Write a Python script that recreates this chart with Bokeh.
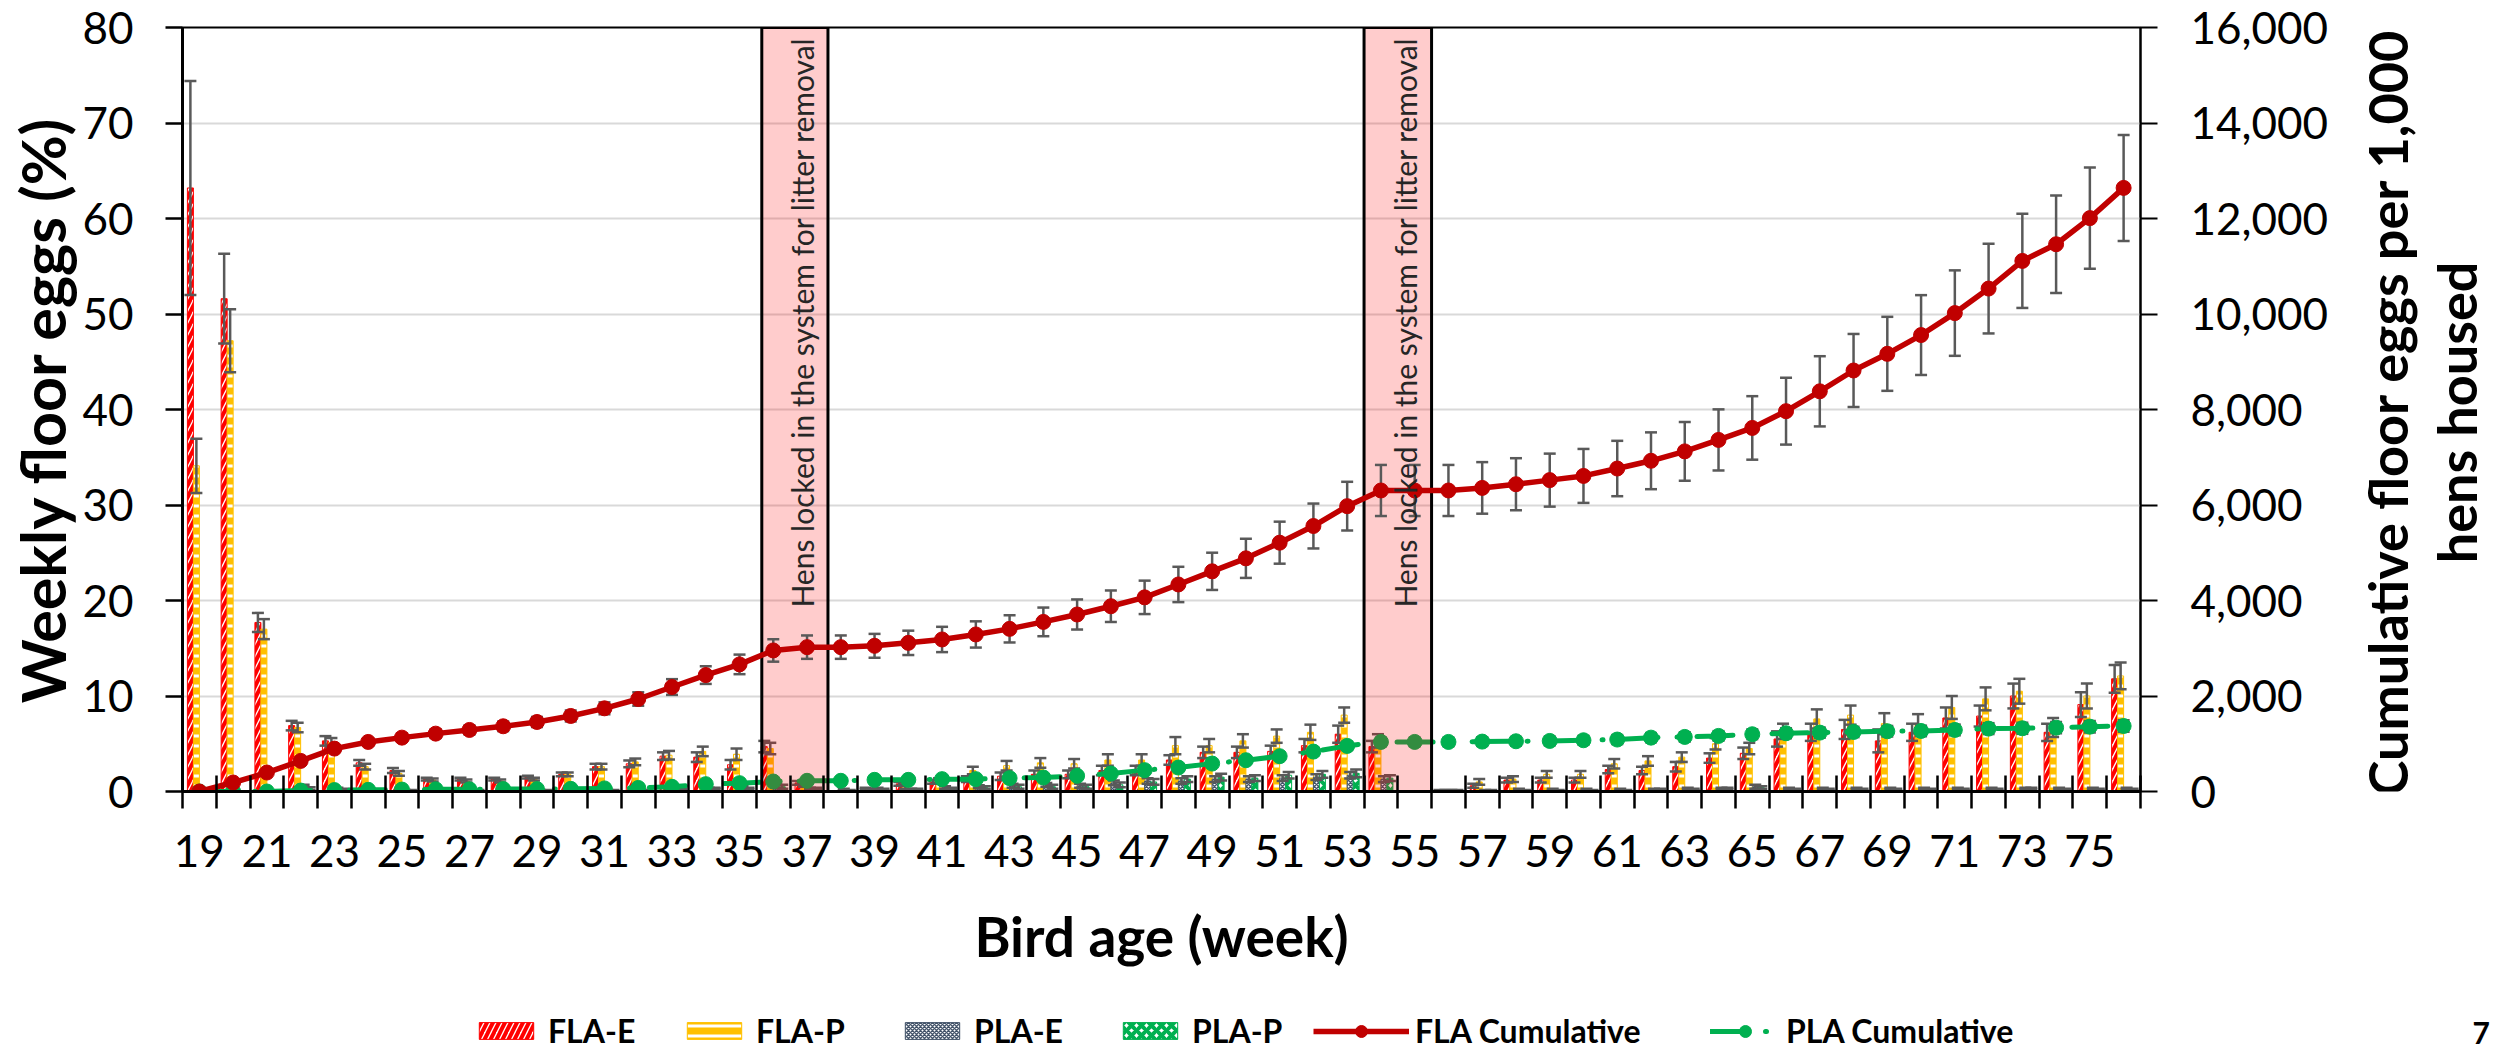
from math import pi

from bokeh.embed import file_html
from bokeh.layouts import column, row
from bokeh.models import (ColumnDataSource, FixedTicker, Label, Legend, LegendItem,
                          LinearAxis, NumeralTickFormatter, Range1d, TeeHead, Whisker)
from bokeh.plotting import figure
from bokeh.resources import INLINE
from bokeh.transform import dodge

# ---------------------------------------------------------------- data
weeks = list(range(19, 77))

# weekly floor eggs (%), mean and standard error per housing/treatment group
fla_e = [63.2, 51.6, 17.7, 6.9, 5.3, 3.0, 2.2, 1.3, 1.3, 1.3,
         1.5, 1.8, 2.6, 2.9, 3.7, 3.6, 2.8, 4.7, 0.9, 0.0,
         0.3, 0.8, 1.0, 1.3, 1.6, 1.8, 1.8, 2.2, 2.2, 3.3,
         4.1, 4.1, 4.2, 4.8, 6.0, 4.7, 0.0, 0.1, 0.6, 1.2,
         1.2, 1.2, 2.3, 2.2, 2.6, 3.5, 4.0, 5.5, 6.2, 6.5,
         5.3, 6.2, 7.7, 7.9, 10.0, 6.2, 9.1, 11.8]
fla_e_se = [11.2, 4.7, 1.0, 0.5, 0.5, 0.3, 0.25, 0.15, 0.15, 0.15,
            0.15, 0.2, 0.3, 0.35, 0.4, 0.5, 0.5, 0.6, 0.2, 0.0,
            0.1, 0.2, 0.2, 0.3, 0.4, 0.4, 0.4, 0.5, 0.5, 0.5,
            0.6, 0.6, 0.6, 0.7, 0.9, 0.6, 0.0, 0.05, 0.2, 0.25,
            0.25, 0.25, 0.4, 0.4, 0.5, 0.5, 0.6, 0.8, 0.9, 1.0,
            1.2, 0.9, 1.1, 1.1, 1.3, 0.9, 1.3, 1.45]
fla_p = [34.1, 47.2, 17.0, 6.7, 5.1, 2.6, 1.9, 1.2, 1.1, 1.1,
         1.3, 1.8, 2.6, 3.1, 3.8, 4.2, 3.9, 4.5, 0.7, 0.0,
         0.2, 0.5, 1.1, 2.2, 2.7, 3.0, 2.9, 3.3, 3.3, 4.8,
         4.8, 5.3, 5.8, 6.2, 8.0, 5.3, 0.0, 0.1, 1.0, 1.3,
         1.8, 1.8, 2.9, 3.2, 3.6, 5.0, 4.5, 6.3, 7.6, 8.0,
         7.1, 7.1, 8.8, 9.7, 10.5, 6.7, 10.0, 12.1]
fla_p_se = [2.85, 3.3, 1.05, 0.5, 0.5, 0.3, 0.25, 0.15, 0.15, 0.15,
            0.15, 0.2, 0.3, 0.35, 0.45, 0.5, 0.6, 0.6, 0.2, 0.0,
            0.1, 0.2, 0.3, 0.4, 0.5, 0.5, 0.5, 0.6, 0.6, 0.9,
            0.7, 0.7, 0.7, 0.8, 0.8, 0.7, 0.0, 0.05, 0.3, 0.3,
            0.35, 0.35, 0.5, 0.5, 0.5, 0.6, 0.6, 0.8, 1.0, 1.0,
            1.1, 1.0, 1.2, 1.2, 1.3, 1.0, 1.3, 1.4]
pla_e = [0.0, 0.0, 0.0, 0.5, 0.3, 0.1, 0.1, 0.1, 0.1, 0.1,
         0.1, 0.1, 0.1, 0.1, 0.2, 0.3, 0.4, 0.6, 0.3, 0.2,
         0.3, 0.2, 0.4, 0.5, 0.6, 0.7, 0.6, 0.9, 1.1, 1.1,
         1.3, 1.3, 1.4, 1.5, 1.7, 1.3, 0.0, 0.1, 0.1, 0.2,
         0.2, 0.2, 0.2, 0.2, 0.3, 0.3, 0.5, 0.3, 0.3, 0.3,
         0.3, 0.3, 0.3, 0.3, 0.3, 0.3, 0.3, 0.3]
pla_e_se = [0.0, 0.0, 0.0, 0.2, 0.1, 0.05, 0.05, 0.05, 0.05, 0.05,
            0.05, 0.05, 0.05, 0.05, 0.1, 0.1, 0.15, 0.2, 0.1, 0.1,
            0.1, 0.1, 0.15, 0.15, 0.2, 0.2, 0.2, 0.25, 0.3, 0.3,
            0.3, 0.3, 0.3, 0.3, 0.35, 0.3, 0.0, 0.05, 0.05, 0.1,
            0.1, 0.1, 0.1, 0.1, 0.1, 0.1, 0.2, 0.1, 0.1, 0.1,
            0.1, 0.1, 0.1, 0.1, 0.1, 0.1, 0.1, 0.1]
pla_p = [0.0, 0.0, 0.0, 0.3, 0.2, 0.1, 0.1, 0.1, 0.1, 0.1,
         0.1, 0.1, 0.1, 0.1, 0.2, 0.3, 0.3, 0.5, 0.3, 0.1,
         0.2, 0.2, 0.3, 0.4, 0.5, 0.5, 0.5, 0.7, 1.0, 1.3,
         1.5, 1.4, 1.7, 1.8, 1.9, 1.4, 0.0, 0.1, 0.1, 0.1,
         0.1, 0.1, 0.1, 0.2, 0.2, 0.3, 0.4, 0.2, 0.2, 0.2,
         0.2, 0.2, 0.2, 0.2, 0.3, 0.2, 0.2, 0.2]
pla_p_se = [0.0, 0.0, 0.0, 0.15, 0.1, 0.05, 0.05, 0.05, 0.05, 0.05,
            0.05, 0.05, 0.05, 0.05, 0.1, 0.1, 0.1, 0.2, 0.1, 0.05,
            0.1, 0.1, 0.1, 0.15, 0.2, 0.2, 0.2, 0.25, 0.3, 0.3,
            0.35, 0.3, 0.35, 0.35, 0.4, 0.3, 0.0, 0.05, 0.05, 0.05,
            0.05, 0.05, 0.05, 0.1, 0.1, 0.1, 0.15, 0.1, 0.1, 0.1,
            0.1, 0.1, 0.1, 0.1, 0.1, 0.1, 0.1, 0.1]

# cumulative floor eggs per 1,000 hens housed
fla_cum = [0, 188, 397, 641, 898, 1038, 1128, 1212, 1289, 1366,
           1456, 1582, 1742, 1937, 2188, 2438, 2662, 2954, 3023, 3023,
           3051, 3113, 3184, 3289, 3406, 3552, 3707, 3880, 4066, 4336,
           4611, 4883, 5211, 5560, 5976, 6304, 6304, 6304, 6358, 6435,
           6521, 6609, 6764, 6926, 7123, 7363, 7614, 7965, 8381, 8817,
           9166, 9559, 10019, 10533, 11112, 11461, 12008, 12641]
fla_cum_se = [0, 20, 35, 50, 65, 75, 85, 90, 95, 100,
              105, 115, 125, 140, 165, 185, 205, 235, 245, 245,
              250, 255, 265, 275, 285, 300, 315, 330, 350, 370,
              390, 410, 440, 470, 510, 535, 535, 535, 540, 545,
              555, 565, 580, 595, 615, 640, 665, 700, 735, 765,
              775, 836, 895, 940, 985, 1020, 1060, 1110]
pla_cum = [0, 0, 0, 20, 30, 35, 40, 45, 45, 50,
           50, 55, 65, 75, 98, 154, 175, 209, 224, 224,
           244, 244, 259, 259, 280, 293, 328, 376, 447, 502,
           585, 655, 739, 836, 955, 1038, 1038, 1038, 1045, 1052,
           1059, 1073, 1088, 1128, 1143, 1164, 1199, 1220, 1233, 1247,
           1262, 1268, 1289, 1317, 1324, 1337, 1358, 1372]
pla_cum_se = [0, 0, 0, 5, 8, 8, 10, 10, 10, 10,
              10, 12, 14, 16, 20, 25, 28, 32, 34, 34,
              36, 36, 38, 38, 40, 42, 45, 50, 55, 60,
              65, 70, 75, 80, 85, 90, 90, 90, 90, 90,
              92, 92, 94, 96, 98, 100, 102, 104, 106, 108,
              110, 110, 112, 114, 116, 118, 120, 122]

# periods when the hens were shut in the aviary while litter was removed (week axis)
lock_from = [35.66, 53.5]
lock_to = [37.62, 55.5]
lock_text_x = [36.85, 54.72]
lock_text = "Hens locked in the system for litter removal"

left_ticks = list(range(0, 81, 10))
right_ticks = list(range(0, 16001, 2000))
right_title = ["Cumulative floor eggs per 1,000", "hens housed"]
page_number = "7"

# ---------------------------------------------------------------- geometry & styling
FONT = "Lato"
ERR = "#595959"
RED, YELLOW, SLATE, GREEN, DARKRED = "#FF0000", "#FFC000", "#44546A", "#00B050", "#C00000"
BAR_W = 0.1775
W, H_TOTAL, H_KEY = 2494, 1051, 80
H_MAIN = H_TOTAL - H_KEY
FRAME_LEFT, FRAME_RIGHT, FRAME_TOP, AXIS_Y = 182, 2142, 27, 791
TITLE_W = 163                      # strip at the right that carries the secondary axis title
X_START, X_STOP = weeks[0] - 0.5, weeks[-1] + 0.5
Y_MAX = left_ticks[-1]

data = dict(week=weeks)
for name, vals, se in [("fla_e", fla_e, fla_e_se), ("fla_p", fla_p, fla_p_se),
                       ("pla_e", pla_e, pla_e_se), ("pla_p", pla_p, pla_p_se),
                       ("fla_cum", fla_cum, fla_cum_se), ("pla_cum", pla_cum, pla_cum_se)]:
    data[name] = vals
    data[name + "_lo"] = [v - s for v, s in zip(vals, se)]
    data[name + "_hi"] = [v + s for v, s in zip(vals, se)]
src = ColumnDataSource(data)

p = figure(width=W - TITLE_W, height=H_MAIN, x_range=Range1d(X_START, X_STOP),
           y_range=Range1d(0, Y_MAX), output_backend="svg", toolbar_location=None,
           min_border_left=FRAME_LEFT, min_border_right=W - TITLE_W - FRAME_RIGHT,
           min_border_top=FRAME_TOP, min_border_bottom=H_MAIN - AXIS_Y)
p.extra_y_ranges = {"cum": Range1d(0, right_ticks[-1])}
p.background_fill_color = "white"
p.border_fill_color = "white"
p.outline_line_color = "black"
p.outline_line_width = 2

p.xgrid.visible = False
p.ygrid.grid_line_color = "#D9D9D9"
p.ygrid.grid_line_width = 2

# x axis: labels on every other week, tick marks between weeks
xa = p.xaxis[0]
xa.ticker = FixedTicker(ticks=list(range(19, 77, 2)),
                        minor_ticks=[w - 0.5 for w in weeks] + [X_STOP])
xa.major_tick_in = 0
xa.major_tick_out = 0
xa.minor_tick_in = 16
xa.minor_tick_out = 17
xa.minor_tick_line_color = "black"
xa.minor_tick_line_width = 2.5
xa.axis_line_color = "black"
xa.axis_line_width = 3
xa.major_label_standoff = 26
xa.axis_label = "Bird age (week)"
xa.axis_label_standoff = 33
xa.axis_label_text_font_size = "55px"

ya = p.yaxis[0]
ya.ticker = FixedTicker(ticks=left_ticks)
ya.major_tick_in = 0
ya.major_tick_out = 17
ya.minor_tick_in = 0
ya.minor_tick_out = 0
ya.major_tick_line_color = "black"
ya.major_tick_line_width = 2.5
ya.axis_line_color = "black"
ya.axis_line_width = 3
ya.major_label_standoff = 32
ya.axis_label = "Weekly floor eggs (%)"
ya.axis_label_standoff = 0
ya.axis_label_text_font_size = "61px"

yr = LinearAxis(y_range_name="cum", ticker=FixedTicker(ticks=right_ticks),
                formatter=NumeralTickFormatter(format="0,0"))
yr.major_tick_in = 0
yr.major_tick_out = 17
yr.minor_tick_in = 0
yr.minor_tick_out = 0
yr.major_tick_line_color = "black"
yr.major_tick_line_width = 2
yr.axis_line_color = "black"
yr.axis_line_width = 2
yr.major_label_standoff = 33
p.add_layout(yr, "right")

for ax in (xa, ya, yr):
    ax.major_label_text_font = FONT
    ax.major_label_text_font_size = "44px"
    ax.major_label_text_color = "black"
    ax.axis_label_text_font = FONT
    ax.axis_label_text_font_style = "bold"
    ax.axis_label_text_color = "black"


def whisker(field, offset=0.0, range_name="default"):
    head = dict(size=12, line_color=ERR, line_width=2.5)
    w = Whisker(source=src, base=dodge("week", offset), lower=field + "_lo", upper=field + "_hi",
                dimension="height", line_color=ERR, line_width=2.5,
                upper_head=TeeHead(**head), lower_head=TeeHead(**head),
                y_range_name=range_name, level="glyph")
    p.renderers.append(w)


# ---------------------------------------------------------------- weekly bars
bar_specs = [
    ("fla_e", "FLA-E", dict(fill_color="white", hatch_pattern="/", hatch_color=RED,
                            hatch_scale=12, hatch_weight=4, line_color=RED)),
    ("fla_p", "FLA-P", dict(fill_color=YELLOW, hatch_pattern="-", hatch_color="white",
                            hatch_scale=10, hatch_weight=3, line_color=YELLOW)),
    ("pla_e", "PLA-E", dict(fill_color="white", hatch_pattern="x", hatch_color=SLATE,
                            hatch_scale=4, hatch_weight=1.5, line_color=SLATE)),
    ("pla_p", "PLA-P", dict(fill_color="white", hatch_pattern="x", hatch_color=GREEN,
                            hatch_scale=10, hatch_weight=4, line_color=GREEN)),
]
offsets = [-1.5 * BAR_W, -0.5 * BAR_W, 0.5 * BAR_W, 1.5 * BAR_W]
for (field, label, style), off in zip(bar_specs, offsets):
    p.vbar(x=dodge("week", off), top=field, width=BAR_W, source=src, line_width=1, **style)
for (field, _, _), off in zip(bar_specs, offsets):
    whisker(field, off)

# ---------------------------------------------------------------- PLA cumulative
PLA_LINE = dict(line_color=GREEN, line_width=5, line_dash="36 19 1 19", line_cap="round")
FLA_LINE = dict(line_color=DARKRED, line_width=5.5)
whisker("pla_cum", range_name="cum")
p.line("week", "pla_cum", source=src, y_range_name="cum", **PLA_LINE)
p.scatter("week", "pla_cum", source=src, y_range_name="cum", size=15,
          fill_color=GREEN, line_color=GREEN)

# ---------------------------------------------------------------- lock periods
p.quad(left=lock_from, right=lock_to, bottom=0, top=Y_MAX, fill_color="#FF0000", fill_alpha=0.2,
       line_color="black", line_width=3)

# ---------------------------------------------------------------- FLA cumulative
whisker("fla_cum", range_name="cum")
p.line("week", "fla_cum", source=src, y_range_name="cum", **FLA_LINE)
p.scatter("week", "fla_cum", source=src, y_range_name="cum", size=15,
          fill_color=DARKRED, line_color=DARKRED)

for xc in lock_text_x:
    p.add_layout(Label(x=xc, y=Y_MAX - 1, text=lock_text, angle=pi / 2, text_align="right",
                       text_baseline="middle", text_font=FONT, text_font_size="30px",
                       text_color="#262626"))

# ---------------------------------------------------------------- secondary axis title strip
# x runs in pixels across the strip, y shares the chart's left scale
side = figure(width=TITLE_W, height=H_MAIN, x_range=Range1d(0, TITLE_W), y_range=p.y_range,
              x_axis_type=None, y_axis_type=None, output_backend="svg", toolbar_location=None,
              min_border_left=0, min_border_right=0, min_border_top=FRAME_TOP,
              min_border_bottom=H_MAIN - AXIS_Y)
side.outline_line_color = None
side.grid.visible = False
side.background_fill_color = "white"
side.border_fill_color = "white"
for line, xc in zip(right_title, [56, 125]):
    side.add_layout(Label(x=xc, y=39.7, text=line, angle=pi / 2, text_align="center",
                          text_baseline="middle", text_font=FONT, text_font_style="bold",
                          text_font_size="54px", text_color="black"))

# ---------------------------------------------------------------- key strip
# its frame spans the chart frame; x runs in pixels from the frame's left edge
key = figure(width=W, height=H_KEY, x_range=Range1d(0, FRAME_RIGHT - FRAME_LEFT),
             y_range=Range1d(0, H_KEY), x_axis_type=None, y_axis_type=None,
             output_backend="svg", toolbar_location=None, min_border_left=FRAME_LEFT,
             min_border_right=W - FRAME_RIGHT, min_border_top=0, min_border_bottom=0)
key.outline_line_color = None
key.grid.visible = False
key.background_fill_color = "white"
key.border_fill_color = "white"

nan = float("nan")
key_items = []
for _, label, style in bar_specs:
    r = key.vbar(x=[nan], top=[nan], width=1, line_width=1, **style)
    key_items.append((label, [r], 68, 21, 8))
fl = key.line(x=[nan, nan], y=[nan, nan], **FLA_LINE)
fd = key.scatter(x=[nan], y=[nan], size=15, fill_color=DARKRED, line_color=DARKRED)
pl = key.line(x=[nan, nan], y=[nan, nan], **PLA_LINE)
pd_ = key.scatter(x=[nan], y=[nan], size=15, fill_color=GREEN, line_color=GREEN)
key_items.append(("FLA Cumulative", [fl, fd], 96, 30, 6))
key_items.append(("PLA Cumulative", [pl, pd_], 70, 30, 6))

for (label, rs, gw, gh, so), xpx in zip(key_items, [472, 680, 898, 1116, 1313, 1710]):
    key.add_layout(Legend(items=[LegendItem(label=label, renderers=rs)],
                          location=(xpx - FRAME_LEFT, 1), orientation="horizontal",
                          glyph_width=gw, glyph_height=gh, label_standoff=so,
                          padding=0, margin=0, spacing=0, border_line_alpha=0,
                          background_fill_alpha=0, label_text_font=FONT,
                          label_text_font_style="bold", label_text_font_size="32px",
                          label_text_color="black"))

# page number, set as the only label of a bare axis at the right of the strip
pn_axis = LinearAxis(ticker=FixedTicker(ticks=[19]), major_label_overrides={19: page_number},
                     axis_line_color=None, major_tick_line_color=None,
                     minor_tick_line_color=None, major_tick_in=0, major_tick_out=0,
                     major_label_standoff=330, major_label_text_font=FONT,
                     major_label_text_font_style="bold", major_label_text_font_size="30px",
                     major_label_text_color="black")
key.add_layout(pn_axis, "right")

page = column(row(p, side, spacing=0), key, spacing=0)
open("out.html", "w").write(file_html(page, INLINE))
